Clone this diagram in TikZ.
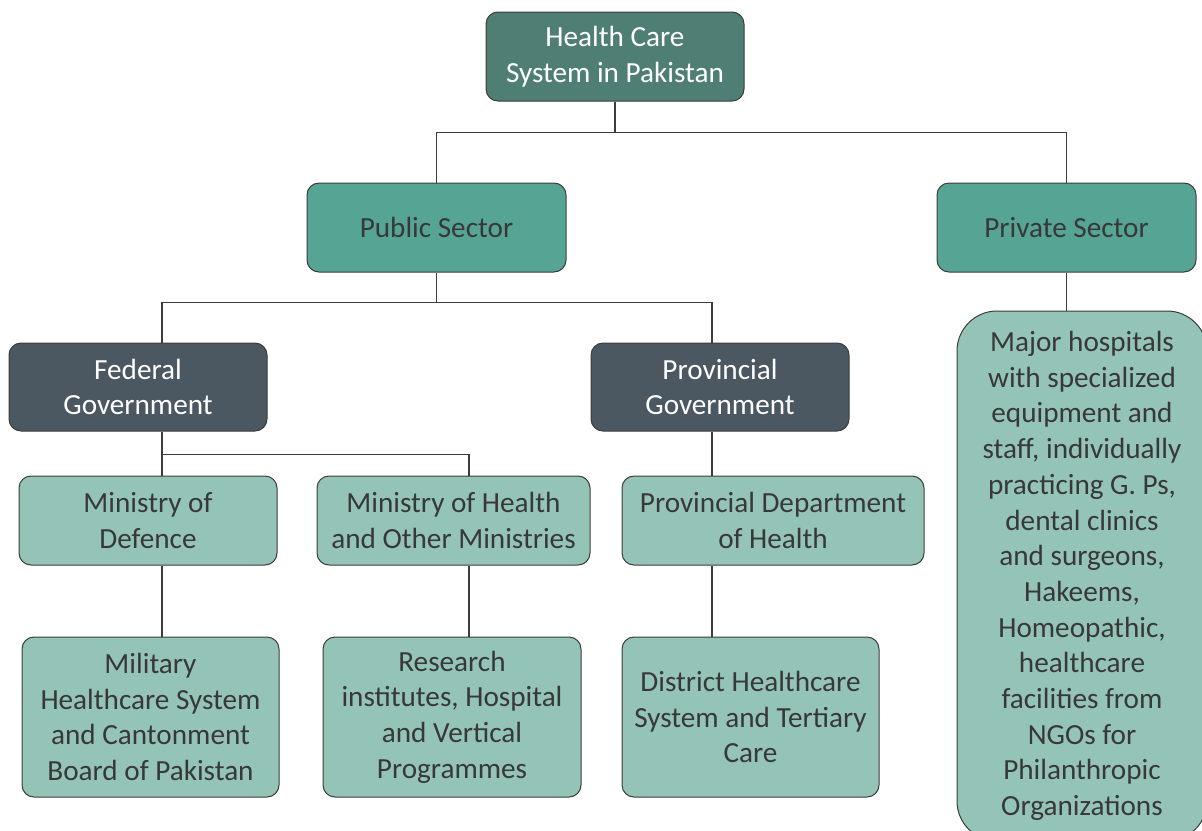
\documentclass[tikz,border=0pt]{standalone}
\usepackage{fontspec}
\setmainfont{Carlito}
\usepackage{tikz}
\usetikzlibrary{calc,positioning}

\definecolor{topc}{HTML}{4F7E75}
\definecolor{secc}{HTML}{56A594}
\definecolor{govc}{HTML}{4B5861}
\definecolor{leafc}{HTML}{94C4B7}
\definecolor{linec}{HTML}{3C3C3C}
\definecolor{txtc}{HTML}{383838}

\begin{document}
\begin{tikzpicture}[x=1pt,y=-1pt,
    box/.style={draw=linec,line width=1pt,rounded corners=12pt,align=center,
      inner sep=0pt,font=\fontsize{29.2}{35.7}\selectfont,text=txtc},
    headbox/.style={box,fill=topc,text=white},
    secbox/.style={box,fill=secc},
    govbox/.style={box,fill=govc,text=white},
    leafbox/.style={box,fill=leafc},
    conn/.style={draw=linec,line width=1.3pt}]
          \useasboundingbox (0,0) rectangle (1202,830);
          % columns of the connectors
          \coordinate (colF) at (162,0);
          \coordinate (colH) at (469,0);
          \coordinate (colP) at (712,0);

          \node[headbox,minimum width=258pt,minimum height=89pt] (top) at (615,56.5) {Health Care\\System in Pakistan};
          \node[secbox,minimum width=259pt,minimum height=89pt] (pub) at (436.5,227.5) {Public Sector};
          \node[secbox,minimum width=259pt,minimum height=89pt] (priv) at (1066.5,227.5) {Private Sector};
          \node[govbox,minimum width=258pt,minimum height=88pt] (fed) at (138,387) {Federal\\Government};
          \node[govbox,minimum width=258pt,minimum height=88pt] (prov) at (720,387) {Provincial\\Government};
          \node[leafbox,minimum width=258pt,minimum height=89pt] (mod) at (148,520.5) {Ministry of\\Defence};
          \node[leafbox,minimum width=273pt,minimum height=89pt] (moh) at (453.5,520.5) {Ministry of Health\\and Other Ministries};
          \node[leafbox,minimum width=302pt,minimum height=89pt] (dept) at (773,520.5) {Provincial Department\\of Health};
          \node[leafbox,minimum width=257pt,minimum height=160pt] (mil) at (150.5,717) {Military\\Healthcare System\\and Cantonment\\Board of Pakistan};
          \node[leafbox,minimum width=258pt,minimum height=160pt] (res) at (452,717) {Research\\institutes, Hospital\\and Vertical\\Programmes};
          \node[leafbox,minimum width=257pt,minimum height=160pt] (dist) at (750.5,717) {District Healthcare\\System and Tertiary\\Care};
          \node[leafbox,rounded corners=40pt,minimum width=250pt,minimum height=530pt] (major) at (1082,576) {Major hospitals\\with specialized\\equipment and\\staff, individually\\practicing G. Ps,\\dental clinics\\and surgeons,\\Hakeems,\\Homeopathic,\\healthcare\\facilities from\\NGOs for\\Philanthropic\\Organizations};

          \draw[conn] (top.south) -- ++(0,31) coordinate (t1);
          \draw[conn] (pub.north) |- (t1) -| (priv.north);
          \draw[conn] (pub.south) -- ++(0,30) coordinate (p1);
          \draw[conn] (fed.north -| colF) |- (p1) -| (prov.north -| colP);
          \draw[conn] (fed.south -| colF) -- (mod.north -| colF);
          \draw[conn] (fed.south -| colF) ++(0,23) -| (moh.north -| colH);
          \draw[conn] (prov.south -| colP) -- (dept.north -| colP);
          \draw[conn] (mod.south -| colF) -- (mil.north -| colF);
          \draw[conn] (moh.south -| colH) -- (res.north -| colH);
          \draw[conn] (dept.south -| colP) -- (dist.north -| colP);
          \draw[conn] (priv.south) -- (major.north -| priv.south);
        \end{tikzpicture}
\end{document}
